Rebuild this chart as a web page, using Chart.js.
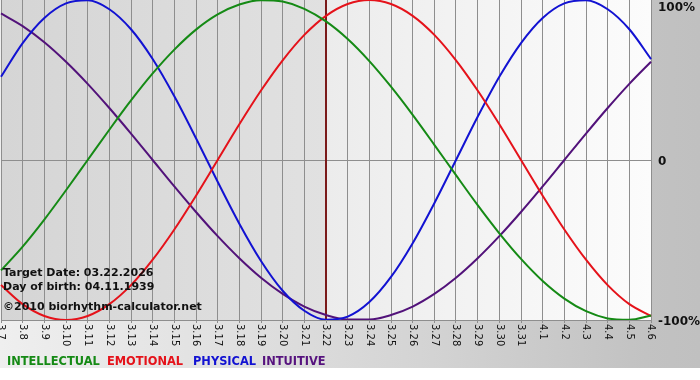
<!DOCTYPE html>
<html><head><meta charset="utf-8">
<script src="https://cdn.jsdelivr.net/npm/chart.js@4.4.1/dist/chart.umd.min.js"></script>
<style>
html,body{margin:0;padding:0;background:#fff;}
#wrap{position:relative;width:700px;height:368px;background:linear-gradient(to right,#efefef 0%,#d4d4d4 60%,#c2c2c2 92%,#c0c0c0 100%);}
canvas{position:absolute;left:0;top:0;}
.lg{position:absolute;top:354px;font:bold 11.4px "DejaVu Sans",sans-serif;white-space:nowrap;}
</style></head><body>
<div id="wrap">
<canvas id="c" width="700" height="368"></canvas>
<div class="lg" style="left:7px;color:#158a15">INTELLECTUAL</div>
<div class="lg" style="left:107px;color:#e5121a">EMOTIONAL</div>
<div class="lg" style="left:193px;color:#1212d2">PHYSICAL</div>
<div class="lg" style="left:262px;color:#56127e">INTUITIVE</div>
</div>
<script>
const dayLabels = ['3.7','3.8','3.9','3.10','3.11','3.12','3.13','3.14','3.15','3.16','3.17','3.18','3.19','3.20','3.21','3.22','3.23','3.24','3.25','3.26','3.27','3.28','3.29','3.30','3.31','4.1','4.2','4.3','4.4','4.5','4.6'];
const intellectual = [-69.0,-54.1,-37.2,-18.9,0,18.9,37.2,54.1,69.0,81.5,91.0,97.2,99.9,99.0,94.5,86.6,75.6,61.8,45.8,28.2,9.5,-9.5,-28.2,-45.8,-61.8,-75.6,-86.6,-94.5,-99.0,-99.9,-97.2];
const emotional = [-78.2,-90.1,-97.5,-100,-97.5,-90.1,-78.2,-62.3,-43.4,-22.3,0,22.3,43.4,62.3,78.2,90.1,97.5,100,97.5,90.1,78.2,62.3,43.4,22.3,0,-22.3,-43.4,-62.3,-78.2,-90.1,-97.5];
const physical = [52.0,73.1,88.8,97.9,99.8,94.2,81.7,63.1,39.8,13.6,-13.6,-39.8,-63.1,-81.7,-94.2,-99.8,-97.9,-88.8,-73.1,-52.0,-27.0,0,27.0,52.0,73.1,88.8,97.9,99.8,94.2,81.7,63.1];
const intuitive = [91.6,83.7,73.6,61.4,47.6,32.5,16.5,0,-16.5,-32.5,-47.6,-61.4,-73.6,-83.7,-91.6,-96.9,-99.7,-99.7,-96.9,-91.6,-83.7,-73.6,-61.4,-47.6,-32.5,-16.5,0,16.5,32.5,47.6,61.4];
const yTicks = [-100, 0, 100];
const targetLabel = '3.22';
const infoLines = ['Target Date: 03.22.2026', 'Day of birth: 04.11.1939', '\u00A92010 biorhythm-calculator.net'];

const deco = {
  id: 'deco',
  beforeDraw(chart) {
    const {ctx, chartArea: a, scales: {x}} = chart;
    const tx = x.getPixelForValue(dayLabels.indexOf(targetLabel));
    ctx.save();
    let g = ctx.createLinearGradient(a.left, 0, tx, 0);
    g.addColorStop(0, '#d5d5d5'); g.addColorStop(1, '#e1e1e1');
    ctx.fillStyle = g; ctx.fillRect(a.left, a.top, tx - a.left, a.bottom - a.top);
    g = ctx.createLinearGradient(tx, 0, a.right, 0);
    g.addColorStop(0, '#ececec'); g.addColorStop(1, '#fcfcfc');
    ctx.fillStyle = g; ctx.fillRect(tx, a.top, a.right - tx, a.bottom - a.top);
    ctx.restore();
  },
  beforeDatasetsDraw(chart) {
    const {ctx, chartArea: a, scales: {x}} = chart;
    const tx = x.getPixelForValue(dayLabels.indexOf(targetLabel));
    ctx.save();
    ctx.strokeStyle = '#7a1a1a'; ctx.lineWidth = 2;
    ctx.beginPath(); ctx.moveTo(tx, a.top); ctx.lineTo(tx, a.bottom); ctx.stroke();
    ctx.restore();
  },
  afterDatasetsDraw(chart) {
    const {ctx} = chart;
    ctx.save();
    ctx.font = 'bold 11px "DejaVu Sans", sans-serif';
    ctx.fillStyle = '#111'; ctx.textBaseline = 'alphabetic'; ctx.textAlign = 'left';
    ctx.fillText(infoLines[0], 3, 276);
    ctx.fillText(infoLines[1], 3, 290);
    ctx.fillText(infoLines[2], 3, 310);
    ctx.restore();
  },
  afterDraw(chart) {
    const {ctx, chartArea: a, scales: {x}} = chart;
    ctx.save();
    ctx.font = '10px "DejaVu Sans", sans-serif';
    ctx.fillStyle = '#111'; ctx.textAlign = 'left'; ctx.textBaseline = 'middle';
    dayLabels.forEach((lab, i) => {
      const px = x.getPixelForValue(i);
      ctx.save(); ctx.translate(px, a.bottom + 4); ctx.rotate(Math.PI / 2);
      ctx.fillText(lab, 0, 0); ctx.restore();
    });
    ctx.restore();
  }
};

const mk = (label, data, color) => ({label, data, borderColor: color, backgroundColor: color, borderWidth: 2, pointRadius: 0, cubicInterpolationMode: 'monotone', fill: false});

new Chart(document.getElementById('c'), {
  type: 'line',
  data: {
    labels: dayLabels,
    datasets: [
      mk('INTELLECTUAL', intellectual, '#158a15'),
      mk('EMOTIONAL', emotional, '#e5121a'),
      mk('PHYSICAL', physical, '#1212d2'),
      mk('INTUITIVE', intuitive, '#52127a')
    ]
  },
  options: {
    responsive: false, animation: false,
    layout: {padding: {left: 1, top: 0, right: 0, bottom: 0}},
    plugins: {legend: {display: false}, tooltip: {enabled: false}},
    scales: {
      x: {
        offset: false,
        grid: {color: '#8e8e8e', lineWidth: 1, drawTicks: true, tickLength: 3, offset: false},
        border: {display: true, color: '#8e8e8e'},
        ticks: {display: false, autoSkip: false},
        afterFit(s) { s.height = 48; s.paddingLeft = 0; s.paddingRight = 0; }
      },
      y: {
        position: 'right', min: -100, max: 100,
        afterBuildTicks(s) { s.ticks = yTicks.map(v => ({value: v})); },
        grid: {drawTicks: false, color: c => (c.tick && c.tick.value === 0) ? '#8e8e8e' : 'rgba(0,0,0,0)'},
        border: {display: false},
        ticks: {
          padding: 7, labelOffset: 2, color: '#111',
          font: {family: '"DejaVu Sans", sans-serif', size: 12, weight: 'bold', lineHeight: 1},
          callback: v => v === 100 ? ['', '100%'] : (v === 0 ? '0' : v + '%')
        },
        afterFit(s) { s.width = 49; s.paddingTop = 0; s.paddingBottom = 0; }
      }
    }
  },
  plugins: [deco]
});
</script>
</body></html>
